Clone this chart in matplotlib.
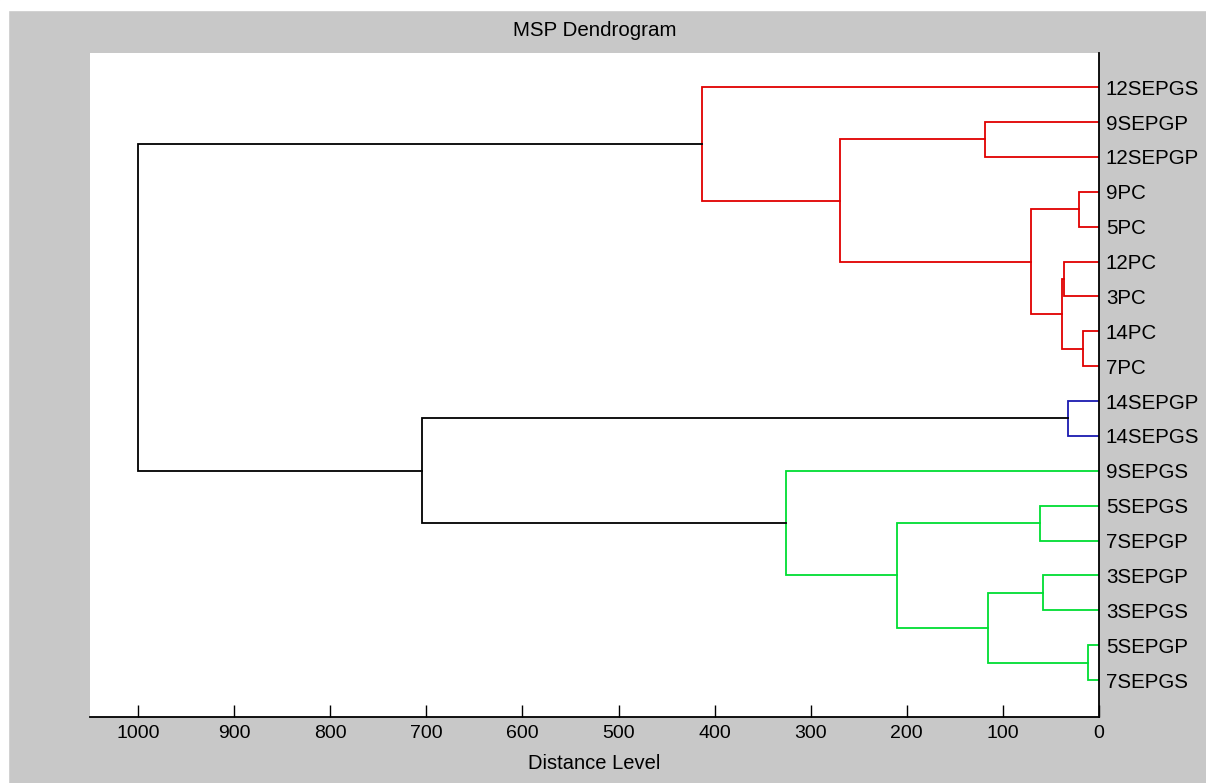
# MSP dendrogram, drawn from a list of merges

import matplotlib.pyplot as plt
from matplotlib.patches import Rectangle

plt.rcParams['font.family'] = ['Liberation Sans', 'DejaVu Sans']

# Leaf labels, top to bottom
leaves = ['12SEPGS', '9SEPGP', '12SEPGP', '9PC', '5PC', '12PC', '3PC', '14PC', '7PC',
          '14SEPGP', '14SEPGS', '9SEPGS', '5SEPGS', '7SEPGP', '3SEPGP', '3SEPGS',
          '5SEPGP', '7SEPGS']

# Merges: (name, left child, right child, distance, colour group)
merge_names = ['A', 'B', 'C', 'D', 'E', 'F', 'G', 'H', 'I', 'J', 'K', 'L', 'M', 'N', 'O', 'P', 'Q']
merge_left = ['9PC', '14PC', '12PC', 'C', 'A', '9SEPGP', 'F', '12SEPGS', '14SEPGP',
              '5SEPGP', '3SEPGP', 'K', '5SEPGS', 'M', '9SEPGS', 'I', 'H']
merge_right = ['5PC', '7PC', '3PC', 'B', 'D', '12SEPGP', 'E', 'G', '14SEPGS',
               '7SEPGS', '3SEPGS', 'J', '7SEPGP', 'L', 'N', 'O', 'P']
merge_dist = [21, 17, 36, 38, 71, 119, 270, 413, 32, 11, 58, 116, 61, 210, 326, 705, 1000]
merge_group = ['r', 'r', 'r', 'r', 'r', 'r', 'r', 'r', 'b', 'g', 'g', 'g', 'g', 'g', 'g', 'k', 'k']

colors = {'r': '#e00000', 'g': '#00dd33', 'b': '#1a1ab0', 'k': 'black'}

fig = plt.figure(figsize=(12.06, 7.83), dpi=100, facecolor='#c8c8c8')
# thin white border at top and left like the screenshot
fig.patches.append(Rectangle((0, 1 - 10 / 783), 1, 10 / 783, color='white',
                             transform=fig.transFigure, zorder=0))
fig.patches.append(Rectangle((0, 0), 8 / 1206, 1, color='white',
                             transform=fig.transFigure, zorder=0))

ax = fig.add_axes([90 / 1206, 66 / 783, 1009 / 1206, 664 / 783])

# node positions: y = leaf index, x = distance
pos = {name: (0.0, i + 1) for i, name in enumerate(leaves)}
for name, l, r, d, g in zip(merge_names, merge_left, merge_right, merge_dist, merge_group):
    xl, yl = pos[l]
    xr, yr = pos[r]
    c = colors[g]
    ax.plot([xl, d, d, xr], [yl, yl, yr, yr], color=c, lw=1.3, solid_joinstyle='miter')
    pos[name] = (d, (yl + yr) / 2)

ax.set_xlim(1050, 0)
ax.set_ylim(19.06, 0.02)

ax.spines['top'].set_visible(False)
ax.spines['left'].set_visible(False)
ax.spines['right'].set_linewidth(1.3)
ax.spines['bottom'].set_linewidth(1.3)

ax.set_xticks(range(0, 1001, 100))
ax.tick_params(axis='x', direction='in', length=8.5, width=1, pad=5.5, labelsize=14)
ax.set_yticks(range(1, len(leaves) + 1))
ax.set_yticklabels(leaves)
ax.yaxis.tick_right()
ax.tick_params(axis='y', length=0, pad=5, labelsize=14.8)

ax.set_title('MSP Dendrogram', fontsize=14.8, pad=12)
ax.set_xlabel('Distance Level', fontsize=14.5, labelpad=9)

fig.savefig('out.png', dpi=100, facecolor=fig.get_facecolor())
